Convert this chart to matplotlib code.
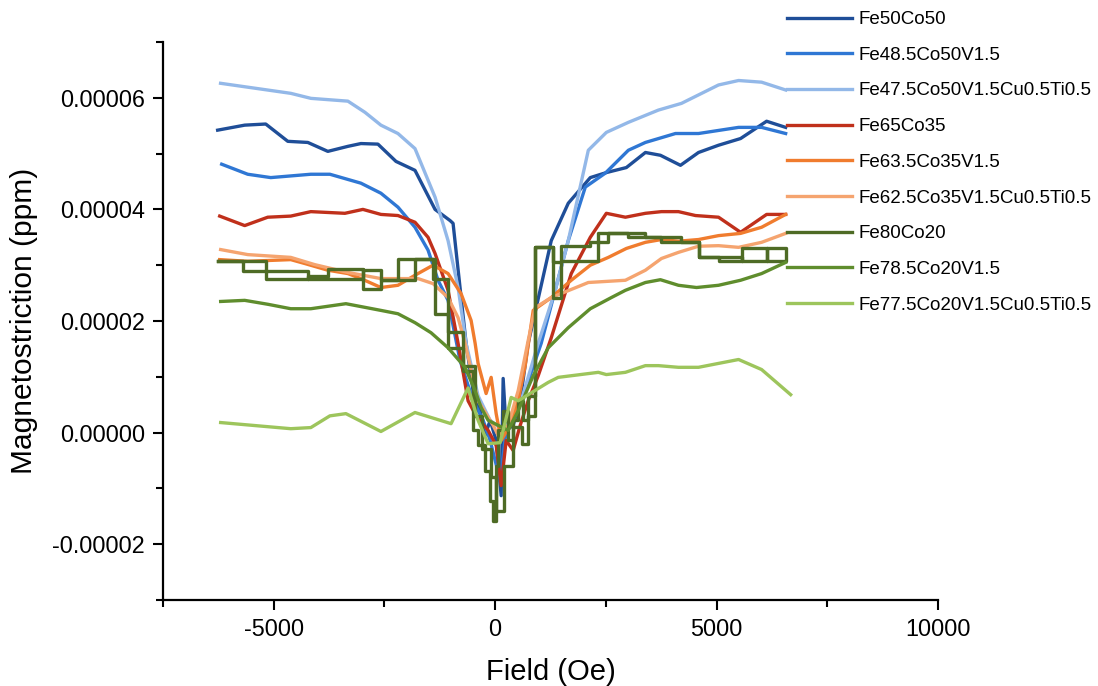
import numpy as np
import matplotlib
matplotlib.use('Agg')
import matplotlib.pyplot as plt
from matplotlib.ticker import MultipleLocator, FuncFormatter

plt.rcParams['font.family'] = ['Liberation Sans', 'DejaVu Sans']

# ------------------------------------------------------------
# Data (field in Oe, magnetostriction in units of 1e-5)
# ------------------------------------------------------------
labels = ['Fe50Co50', 'Fe48.5Co50V1.5', 'Fe47.5Co50V1.5Cu0.5Ti0.5',
          'Fe65Co35', 'Fe63.5Co35V1.5', 'Fe62.5Co35V1.5Cu0.5Ti0.5',
          'Fe80Co20', 'Fe78.5Co20V1.5', 'Fe77.5Co20V1.5Cu0.5Ti0.5']
colors = ['#1f4e98', '#2f77d4', '#93b8e8',
          '#c0301b', '#f07c2e', '#f5a46f',
          '#4e6b25', '#5f8d2d', '#9dc55c']

fe50_x = [-6266, -5655, -5180, -4682, -4230, -3778, -3325, -3031, -2647, -2239, -1810, -1357,
          -1018, -950, -656, -498, -339, -226, -113, 23, 136, 181, 249, 407, 566, 746,
          1267, 1651, 2149, 2511, 2963, 3393, 3732, 4185, 4592, 5044, 5542, 6130, 6560]
fe50_y = [5.42, 5.51, 5.53, 5.22, 5.20, 5.04, 5.13, 5.18, 5.17, 4.86, 4.70, 4.00,
          3.80, 3.75, 1.60, 0.75, 0.39, -0.05, 0.22, -0.14, -1.13, 0.97, 0.04, 0.13, 0.57, 1.60,
          3.44, 4.11, 4.57, 4.66, 4.75, 5.02, 4.97, 4.79, 5.02, 5.15, 5.27, 5.58, 5.47]

fe485_x = [-6175, -5587, -5067, -4162, -3732, -3031, -2579, -2194, -1810, -1515, -1289, -1063,
           -792, -498, -271, -113, 113, 249, 407, 633, 1040, 1651, 2036, 2488, 3008, 3393,
           4072, 4592, 5497, 6017, 6560]
fe485_y = [4.81, 4.63, 4.57, 4.63, 4.63, 4.47, 4.29, 4.04, 3.68, 3.27, 2.73, 2.37,
           1.29, 0.57, 0.22, -0.14, -0.86, 0.04, 0.22, 0.66, 1.60, 3.44, 4.40, 4.65, 5.06, 5.20,
           5.36, 5.36, 5.47, 5.47, 5.36]

fe475_x = [-6200, -4615, -4160, -3325, -2940, -2580, -2195, -1810, -1357, -1063, -837, -656,
           -385, -113, 181, 520, 973, 1357, 1651, 2104, 2511, 3008, 3687, 4207, 5044, 5497,
           6017, 6560]
fe475_y = [6.26, 6.08, 5.99, 5.94, 5.74, 5.51, 5.36, 5.09, 4.22, 3.44, 2.60, 1.60,
           0.66, 0.22, 0.04, 0.39, 1.60, 2.55, 3.44, 5.06, 5.38, 5.56, 5.78, 5.90, 6.23, 6.31,
           6.28, 6.14]

fe65_x = [-6220, -5655, -5135, -4615, -4162, -3393, -2986, -2579, -2194, -1810, -1515, -1357,
          -1063, -837, -611, -430, -158, 23, 136, 249, 407, 566, 746, 973, 1267, 1719, 2149,
          2511, 2941, 3393, 3755, 4139, 4524, 5044, 5542, 6130, 6560]
fe65_y = [3.88, 3.71, 3.86, 3.88, 3.96, 3.93, 4.00, 3.91, 3.89, 3.77, 3.50, 3.21,
          2.55, 1.60, 0.57, 0.30, 0.04, -0.23, -0.95, -0.14, -0.32, 0.13, 0.57, 1.02, 1.70, 2.85, 3.50,
          3.93, 3.86, 3.93, 3.96, 3.96, 3.89, 3.86, 3.59, 3.91, 3.91]

fe635_x = [-6220, -5587, -4615, -4298, -3778, -3325, -3031, -2579, -2194, -1810, -1402, -1063,
           -769, -543, -452, -385, -204, -90, 23, 136, 339, 520, 679, 860, 1267, 1719, 2149,
           2556, 2963, 3393, 3755, 4139, 4592, 5044, 5542, 6017, 6560]
fe635_y = [3.10, 3.07, 3.10, 3.03, 2.91, 2.85, 2.76, 2.60, 2.64, 2.82, 3.00, 2.85,
           2.49, 2.01, 1.60, 1.24, 0.70, 0.99, 0.34, -0.14, 0.13, 0.57, 1.20, 2.19, 2.42, 2.73, 3.00,
           3.14, 3.30, 3.41, 3.46, 3.43, 3.46, 3.53, 3.57, 3.68, 3.91]

fe625_x = [-6198, -5587, -4615, -4072, -3325, -2579, -1742, -1402, -1063, -837, -679, -385,
           -45, 68, 294, 520, 746, 905, 1267, 2104, 2941, 3393, 3755, 4139, 4592, 5044, 5497,
           6017, 6560]
fe625_y = [3.28, 3.19, 3.14, 3.01, 2.87, 2.76, 2.76, 2.67, 2.42, 2.06, 1.60, 0.57,
           0.13, -0.05, 0.13, 0.75, 1.65, 2.24, 2.42, 2.69, 2.73, 2.91, 3.12, 3.23, 3.34, 3.35, 3.32,
           3.41, 3.57]

# Fe80Co20 is a stepped trace: up-sweep then down-sweep
fe80_up_x = [-6266, -5700, -5180, -4230, -3778, -2986, -2579, -2194, -1357, -1063, -724, -498,
             -385, -226, -113, -45, 23, 68, 181, 294, 407, 520, 633, 746, 905, 1312, 1493,
             2149, 2556, 3393, 4207, 4592, 5044, 5565, 6130, 6560]
fe80_up_y = [3.07, 2.89, 2.76, 2.80, 2.94, 2.58, 2.73, 3.12, 2.13, 1.52, 1.11, 0.04,
             -0.23, -0.68, -1.22, -1.58, -0.59, 0.04, 0.39, -0.14, 0.22, 0.57, 0.22, 0.66, 3.32, 3.05, 3.35,
             3.41, 3.57, 3.50, 3.41, 3.14, 3.08, 3.30, 3.08, 3.30]
fe80_down_x = [6560, 6130, 5565, 5044, 4592, 3755, 3008, 2330, 1900, 1493, 1312, 905, 746,
               600, 400, 200, 23, -100, -300, -450, -724, -1063, -1402, -1810, -2194, -2579,
               -2986, -3778, -4230, -4682, -5180, -5700, -6266]
fe80_down_y = [3.30, 3.08, 3.14, 3.14, 3.41, 3.50, 3.57, 3.08, 3.08, 2.42, 3.32, 0.30, -0.20,
               0.10, -0.60, -1.40, -0.80, -0.30, 0.30, 1.20, 1.80, 2.76, 3.12, 2.73, 2.73, 2.91,
               2.76, 2.76, 2.89, 2.89, 3.07, 3.07, 3.07]

fe785_x = [-6198, -5655, -5135, -4615, -4162, -3370, -2579, -2194, -1810, -1448, -1063, -679,
           -452, -317, -158, 68, 294, 520, 860, 1199, 1651, 2149, 2624, 2941, 3393, 3732, 4139,
           4547, 5044, 5542, 6017, 6560]
fe785_y = [2.35, 2.37, 2.30, 2.22, 2.22, 2.31, 2.19, 2.13, 1.97, 1.79, 1.52, 1.17,
           0.75, 0.45, 0.22, 0.13, 0.04, 0.39, 1.02, 1.52, 1.88, 2.22, 2.42, 2.55, 2.69, 2.74, 2.64,
           2.60, 2.64, 2.73, 2.85, 3.05]

fe775_x = [-6198, -4615, -4162, -3732, -3370, -2579, -1810, -995, -611, -385, -158, 113,
           362, 520, 1199, 1425, 2330, 2511, 2941, 3393, 3687, 4139, 4592, 5044, 5497, 6017, 6673]
fe775_y = [0.18, 0.07, 0.09, 0.30, 0.34, 0.02, 0.36, 0.16, 0.80, 0.22, -0.20, -0.18,
           0.63, 0.57, 0.90, 0.99, 1.08, 1.04, 1.08, 1.20, 1.20, 1.17, 1.17, 1.24, 1.31, 1.13, 0.68]

scale = 1e-5
series = [
    (fe50_x, fe50_y, 'default'),
    (fe485_x, fe485_y, 'default'),
    (fe475_x, fe475_y, 'default'),
    (fe65_x, fe65_y, 'default'),
    (fe635_x, fe635_y, 'default'),
    (fe625_x, fe625_y, 'default'),
    (fe80_up_x + fe80_down_x, fe80_up_y + fe80_down_y, 'steps-post'),
    (fe785_x, fe785_y, 'default'),
    (fe775_x, fe775_y, 'default'),
]

# ------------------------------------------------------------
# Plot
# ------------------------------------------------------------
fig = plt.figure(figsize=(10.98, 6.86), dpi=100)
ax = fig.add_axes([163 / 1098, 86 / 686, (938 - 163) / 1098, (600 - 42) / 686])

for (x, y, ds), lab, col in zip(series, labels, colors):
    ax.plot(x, np.array(y) * scale, color=col, lw=2.4, drawstyle=ds, label=lab)

ax.set_xlim(-7500, 10000)
ax.set_ylim(-0.00003, 0.00007)

ax.xaxis.set_major_locator(MultipleLocator(5000))
ax.xaxis.set_minor_locator(MultipleLocator(2500))
ax.yaxis.set_major_locator(MultipleLocator(0.00002))
ax.yaxis.set_minor_locator(MultipleLocator(0.00001))
ax.xaxis.set_major_formatter(FuncFormatter(lambda v, p: f'{int(round(v))}'))
ax.yaxis.set_major_formatter(FuncFormatter(lambda v, p: f'{round(v, 7) + 0.0:.5f}'))

for s in ['top', 'right']:
    ax.spines[s].set_visible(False)
for s in ['left', 'bottom']:
    ax.spines[s].set_linewidth(1.6)

ax.tick_params(which='major', direction='out', length=7, width=1.5, labelsize=16.8, pad=6)
ax.tick_params(which='minor', direction='out', length=5, width=1.5)

ax.set_xlabel('Field (Oe)', fontsize=21, labelpad=12)
ax.set_ylabel('Magnetostriction (ppm)', fontsize=21.5, labelpad=10)

fig.legend(loc='upper left', bbox_to_anchor=(787 / 1098, 0.984), frameon=False,
           fontsize=13.5, handlelength=3.45, handletextpad=0.35, labelspacing=0.99,
           borderpad=0, borderaxespad=0)

fig.savefig('out.png', dpi=100)
